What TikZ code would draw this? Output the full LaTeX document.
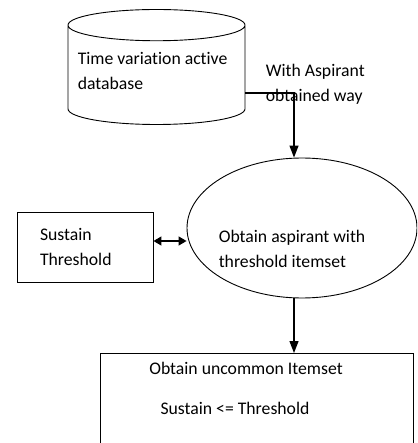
\documentclass[tikz,border=0pt]{standalone}
\usepackage{fontspec}
\setmainfont{Carlito}[Ligatures=NoCommon]
\usetikzlibrary{shapes.geometric,arrows.meta,positioning,calc}

\begin{document}
\begin{tikzpicture}[x=1pt, y=1pt, line width=0.9pt,
    every node/.style={font=\fontsize{17.7}{25}\selectfont},
    box/.style={draw, rectangle, inner sep=0pt},
    arr/.style={-{Triangle[length=12pt,width=9pt]}, line width=1.3pt},
    dblarr/.style={{Triangle[length=8pt,width=9pt]}-{Triangle[length=8pt,width=9pt]}, line width=1.3pt}]
    \clip (0,0) rectangle (417,-443);

    % Database
    \node[draw, cylinder, shape border rotate=90, aspect=0.2, anchor=shape center,
          minimum width=177pt, minimum height=115pt] (db) at (156.5,-67)
          {\phantom{\begin{tabular}{@{}l@{}}Time variation active\\database\end{tabular}}};
    \node[anchor=west, align=left] (dbtxt) at (74,-70.5) {Time variation active\\database};
    \node[anchor=west, align=left] (waylbl) at (262,-84) {With Aspirant\\obtained way};

    % Aspirant ellipse
    \node[draw, ellipse, minimum width=230pt, minimum height=140pt, inner sep=0pt] (asp) at (302,-228) {};
    \node[anchor=west, align=left] (asptxt) at (215,-249) {Obtain aspirant with\\threshold itemset};

    % Sustain threshold
    \node[box, text width=90pt, inner xsep=23pt, minimum height=70pt, align=left] (sus) at (85,-247)
          {Sustain\\Threshold};

    % Uncommon itemset
    \node[box, anchor=north, minimum width=313pt, minimum height=120pt] (unc) at (256.5,-353) {};
    \node (unc1) at (246,-368) {Obtain uncommon Itemset};
    \node (unc2) at (235,-408) {Sustain <= Threshold};

    % Connectors
    \draw[arr] ([yshift=-26pt]db.shape center -| db.east) -| ([xshift=-8pt]asp.north);
    \draw[dblarr] ([yshift=6pt]sus.east) -- ([yshift=6pt]sus.east -| asp.west);
    \draw[arr] ([xshift=-8pt]asp.south) -- ([xshift=-8pt]asp.south |- unc.north);
\end{tikzpicture}
\end{document}
